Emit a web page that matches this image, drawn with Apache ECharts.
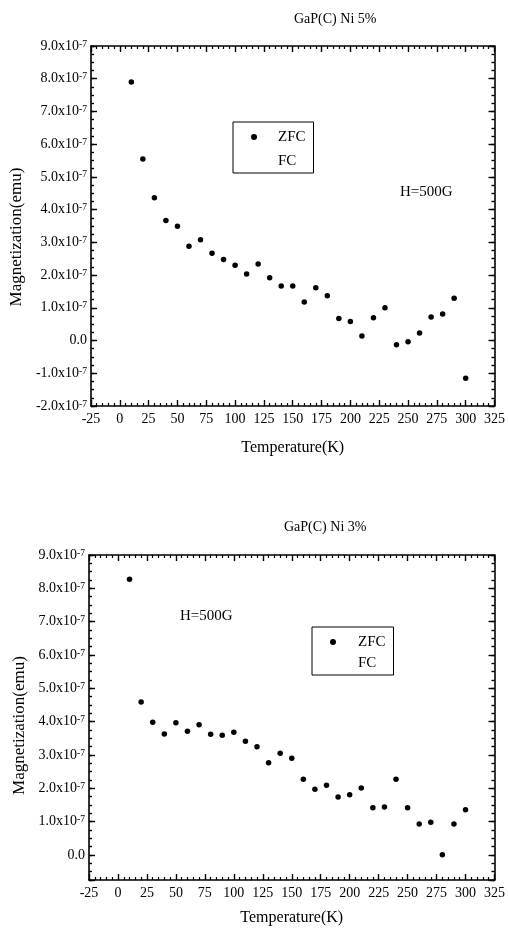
<!DOCTYPE html>
<html>
<head>
<meta charset="utf-8">
<title>GaP(C) Ni magnetization</title>
<script src="https://cdn.jsdelivr.net/npm/echarts@6/dist/echarts.min.js"></script>
<style>
  html, body { margin: 0; padding: 0; background: #fff; }
  #chart { width: 508px; height: 928px; }
</style>
</head>
<body>
<div id="chart"></div>
<script>
// temperature (K) of every measured point
const temps = [10, 20, 30, 40, 50, 60, 70, 80, 90, 100, 110, 120, 130, 140, 150,
  160, 170, 180, 190, 200, 210, 220, 230, 240, 250, 260, 270, 280, 290, 300]

// ZFC magnetization, in units of 1e-7 emu
const zfcNi5 = [7.9, 5.55, 4.36, 3.67, 3.49, 2.88, 3.08, 2.67, 2.48, 2.3,
  2.03, 2.34, 1.92, 1.67, 1.67, 1.18, 1.61, 1.37, 0.67, 0.58,
  0.14, 0.7, 1.0, -0.13, -0.04, 0.23, 0.72, 0.81, 1.29, -1.15]
const zfcNi3 = [8.27, 4.59, 3.98, 3.63, 3.97, 3.71, 3.91, 3.62, 3.59, 3.68,
  3.41, 3.25, 2.77, 3.05, 2.9, 2.27, 1.97, 2.09, 1.74, 1.81,
  2.01, 1.42, 1.44, 2.27, 1.42, 0.93, 0.98, 0.01, 0.93, 1.36]

const titles = ['GaP(C) Ni 5%', 'GaP(C) Ni 3%']
const fieldText = 'H=500G'
const xRange = [-25, 325]
const yRanges = [[-2, 9], [-0.75, 9]]

const FONT = '"Liberation Serif", "Times New Roman", serif'
const BLACK = '#000'

const chart = echarts.init(document.getElementById('chart'))

// tick label like 3.0x10^-7
const yLabel = (v) => {
  if (Math.abs(v) < 1e-9) return '0.0'
  if (Math.abs(v - Math.round(v)) > 1e-9) return ''
  return '{m|' + v.toFixed(1) + 'x10}{s|-7}'
}

const lineStyle = { color: BLACK, width: 1.6 }

const makeX = (g, pos) => ({
  type: 'value', gridIndex: g, position: pos,
  min: xRange[0], max: xRange[1], interval: 25,
  name: pos === 'bottom' ? 'Temperature(K)' : '',
  nameLocation: 'middle', nameGap: g === 0 ? 34 : 30,
  nameTextStyle: { fontFamily: FONT, fontSize: 16, color: BLACK },
  axisLine: { show: true, onZero: false, lineStyle },
  axisTick: { show: true, inside: true, length: 6, lineStyle: { color: BLACK, width: 1.4 } },
  minorTick: { show: true, splitNumber: 5, length: 3, lineStyle: { color: BLACK, width: 1.2 } },
  axisLabel: { show: pos === 'bottom', margin: 6, fontFamily: FONT, fontSize: 14, color: BLACK },
  splitLine: { show: false }
})

const makeY = (g, pos, major) => ({
  type: 'value', gridIndex: g, position: pos,
  min: yRanges[g][0], max: yRanges[g][1],
  // major ticks every 1e-7, minor axes every 0.25e-7
  minInterval: major ? 1 : 0.25, maxInterval: major ? 1 : 0.25,
  name: major && pos === 'left' ? 'Magnetization(emu)' : '',
  nameLocation: 'middle', nameGap: g === 0 ? 64 : 58,
  nameTextStyle: { fontFamily: FONT, fontSize: 17, color: BLACK, padding: [0, g === 0 ? 22 : 16, 0, 0] },
  axisLine: { show: major, onZero: false, lineStyle },
  axisTick: { show: true, inside: true, length: major ? 6 : 3, lineStyle: { color: BLACK, width: 1.4 } },
  axisLabel: {
    show: major && pos === 'left', margin: 4, formatter: yLabel,
    fontFamily: FONT, fontSize: 14, color: BLACK,
    rich: {
      m: { fontFamily: FONT, fontSize: 14, color: BLACK },
      s: { fontFamily: FONT, fontSize: 9.5, color: BLACK, verticalAlign: 'top', padding: [0, 0, 2, 0] }
    }
  },
  splitLine: { show: false }
})

const makeLegend = (left, top, gap, iconW) => ({
  orient: 'vertical', left, top,
  data: ['ZFC', { name: 'FC', itemStyle: { opacity: 0 } }],
  icon: 'circle', itemWidth: iconW, itemHeight: 6, itemGap: gap,
  borderColor: BLACK, borderWidth: 1, padding: [7, 8, 4, 18],
  textStyle: { fontFamily: FONT, fontSize: 15, color: BLACK, lineHeight: 16 },
  selectedMode: false
})

const option = {
  animation: false,
  backgroundColor: '#fff',
  title: [
    { text: titles[0], left: 289, top: 7, textStyle: { fontFamily: FONT, fontSize: 14, fontWeight: 'normal', color: BLACK } },
    { text: titles[1], left: 279, top: 515, textStyle: { fontFamily: FONT, fontSize: 14, fontWeight: 'normal', color: BLACK } }
  ],
  grid: [
    { left: 90, top: 46, width: 409, height: 360 },
    { left: 89, top: 555, width: 410, height: 325 }
  ],
  xAxis: [makeX(0, 'bottom'), makeX(0, 'top'), makeX(1, 'bottom'), makeX(1, 'top')],
  yAxis: [
    makeY(0, 'left', true), makeY(0, 'right', true), makeY(0, 'left', false), makeY(0, 'right', false),
    makeY(1, 'left', true), makeY(1, 'right', true), makeY(1, 'left', false), makeY(1, 'right', false)
  ],
  legend: [makeLegend(233, 122, 8, 38), makeLegend(312, 627, 5, 40)],
  graphic: [
    { type: 'text', left: 400, top: 185, style: { text: fieldText, font: '15px ' + FONT, fill: BLACK } },
    { type: 'text', left: 180, top: 609, style: { text: fieldText, font: '15px ' + FONT, fill: BLACK } }
  ],
  series: [
    {
      name: 'ZFC', type: 'scatter', xAxisIndex: 0, yAxisIndex: 0,
      symbol: 'circle', symbolSize: 5.5, itemStyle: { color: BLACK, opacity: 1 },
      data: temps.map((t, i) => [t, zfcNi5[i]])
    },
    {
      name: 'ZFC', type: 'scatter', xAxisIndex: 2, yAxisIndex: 4,
      symbol: 'circle', symbolSize: 5.5, itemStyle: { color: BLACK, opacity: 1 },
      data: temps.map((t, i) => [t, zfcNi3[i]])
    },
    { name: 'FC', type: 'scatter', xAxisIndex: 0, yAxisIndex: 0, data: [] }
  ]
}

chart.setOption(option)
window.addEventListener('resize', () => chart.resize())
</script>
</body>
</html>
